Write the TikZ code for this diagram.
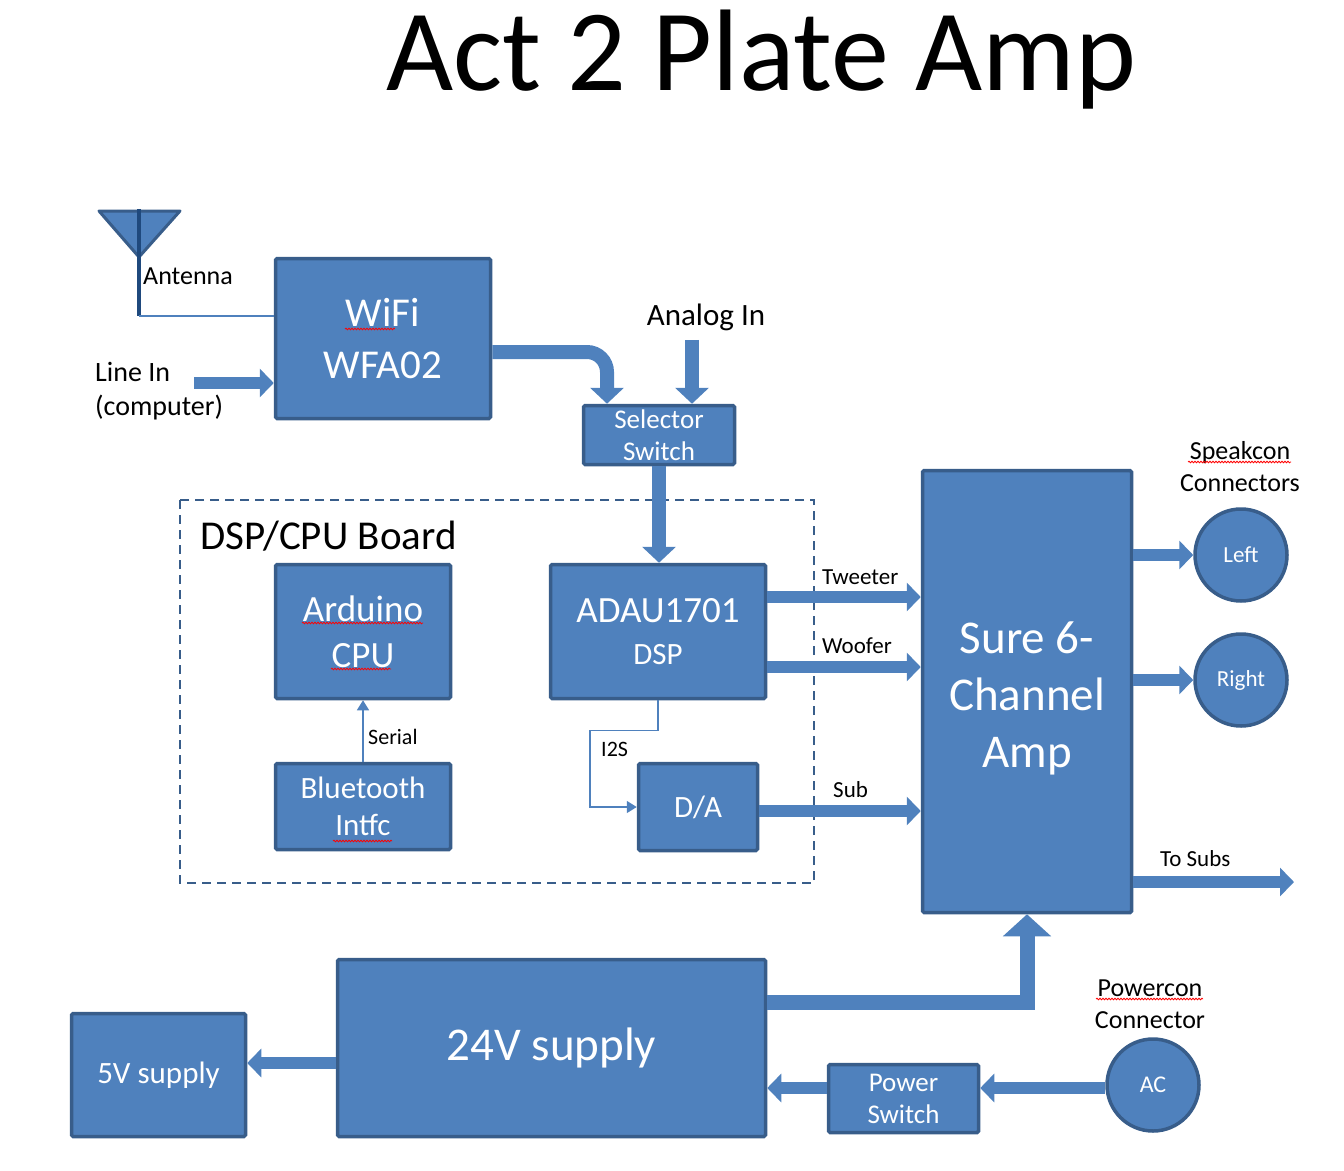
\documentclass[tikz,border=0pt]{standalone}
\usepackage{fontspec}
\setmainfont{Carlito}
\usetikzlibrary{arrows.meta,decorations.pathmorphing}
\definecolor{blkfill}{HTML}{4F81BD}
\definecolor{blkline}{HTML}{385D8A}
\definecolor{mast}{HTML}{1F497D}
\newcommand{\fsz}[2]{\fontsize{#1}{#2}\selectfont}

\begin{document}
\begin{tikzpicture}[x=1pt, y=-1pt,
	blk/.style={draw=blkline, line width=3.5pt, fill=blkfill, text=white, align=center, inner sep=0pt, rounded corners=1.5pt},
	con/.style={circle, draw=blkline, line width=3.5pt, fill=blkfill, text=white, inner sep=0pt, minimum size=92pt},
	barrow/.style={blkfill, line width=12pt, -{Triangle[width=28pt,length=14pt]}},
	warrow/.style={blkfill, line width=14pt, -{Triangle[width=33pt,length=16pt]}},
	larrow/.style={blkfill, line width=1.5pt, -{Triangle[width=12pt,length=10pt]}},
	lbl/.style={anchor=base west, inner sep=0pt},
	squig/.style={red, line width=0.8pt, decorate, decoration={snake, amplitude=0.8pt, segment length=3pt}}]
	\useasboundingbox (0,0) rectangle (1344,1170);

	\node[anchor=base, inner sep=0pt, font=\fsz{116}{139}] (title) at (761,90) {Act 2 Plate Amp};

	\draw[blkline, line width=2.8pt, dash pattern=on 9pt off 6pt] (180,500) rectangle (814,883);
	\node[lbl, font=\fsz{41}{48}] (board) at (200,549) {DSP/CPU Board};

	\node[blk, minimum width=215pt, minimum height=160pt, font=\fsz{41}{52}] (wifi) at (383,338.5) {WiFi\\WFA02};
	\node[blk, minimum width=151pt, minimum height=59pt, font=\fsz{27}{32}] (sel) at (659,435) {Selector\\Switch};
	\node[blk, minimum width=215pt, minimum height=134pt, font=\fsz{37}{42}] (dsp) at (658,631.5) {ADAU1701\\{\fsz{31}{37}DSP}};
	\node[blk, minimum width=175pt, minimum height=134pt, font=\fsz{37}{46}] (ard) at (363,631.5) {Arduino\\CPU};
	\node[blk, minimum width=175pt, minimum height=86pt, font=\fsz{31}{37}] (bt) at (363,806.5) {Bluetooth\\Intfc};
	\node[blk, minimum width=119pt, minimum height=87pt, font=\fsz{31}{37}] (da) at (698,807) {D/A};
	\node[blk, minimum width=209pt, minimum height=442pt, font=\fsz{47}{57}] (amp) at (1027,691.5) {\rule{0pt}{45pt}Sure 6-\\Channel\\Amp};
	\node[blk, minimum width=428pt, minimum height=177pt, font=\fsz{47}{57}] (s24) at (551.5,1048) {24V supply};
	\node[blk, minimum width=174pt, minimum height=123pt, font=\fsz{31}{37}] (s5) at (158.5,1075) {5V supply};
	\node[blk, minimum width=150pt, minimum height=68pt, font=\fsz{27}{32}] (psw) at (903.5,1098.5) {Power\\Switch};

	\node[con, font=\fsz{23}{28}] (lft) at (1241,555) {Left};
	\node[con, font=\fsz{23}{28}] (rgt) at (1241,680) {Right};
	\node[con, font=\fsz{24}{29}] (ac) at (1153,1085) {AC};

	\node[align=center, inner sep=0pt, font=\fsz{26}{32}] (speak) at (1240,467) {Speakcon\\Connectors};
	\node[align=center, inner sep=0pt, font=\fsz{26}{32}] (power) at (1150,1004) {Powercon\\Connector};
	\node[align=left, anchor=west, inner sep=0pt, font=\fsz{28}{34}] (linein) at (95,391) {Line In\\(computer)};
	\node[inner sep=0pt, font=\fsz{31}{37}] (analog) at (706,317) {Analog In};
	\node[lbl, font=\fsz{26}{31}] (antlbl) at (143,284) {Antenna};
	\node[lbl, font=\fsz{23}{28}] (twt) at (822,584) {Tweeter};
	\node[lbl, font=\fsz{23}{28}] (wof) at (822,653) {Woofer};
	\node[lbl, font=\fsz{23}{28}] (sub) at (833,797) {Sub};
	\node[lbl, font=\fsz{23}{28}] (tosub) at (1160,866) {To Subs};
	\node[lbl, font=\fsz{22}{26}] (ser) at (368,744) {Serial};
	\node[lbl, font=\fsz{22}{26}] (iis) at (601,756) {I2S};

	\coordinate (ant) at (139,316);
	\coordinate (lin) at (194,383);
	\coordinate (subsout) at (1294,882);

	\draw[fill=blkfill, draw=blkline, line width=3pt, line join=round] (99,211) -- (180,211) -- (139,257) -- cycle;
	\draw[mast, line width=4pt] (139,209) -- (ant);
	\draw[blkfill, line width=1.5pt] (ant) -- (wifi.west |- ant);

	\draw[barrow] (lin) -- (wifi.west |- lin);
	\draw[warrow, rounded corners=20pt] ([yshift=-13.5pt]wifi.east) -| ([xshift=-52pt]sel.north);
	\draw[warrow] ([xshift=33pt,yshift=64pt]sel.north) -- ([xshift=33pt]sel.north);
	\draw[warrow] (sel.south) -- (sel.south |- dsp.north);

	\draw[larrow] (bt.north) -- (ard.south);
	\draw[larrow] (dsp.south) -- ++(0,30) -| ([xshift=-47pt]da.west) -- (da.west);

	\draw[barrow] ([yshift=34.5pt]dsp.east) -- ([yshift=34.5pt]dsp.east -| amp.west);
	\draw[barrow] ([yshift=-35.5pt]dsp.east) -- ([yshift=-35.5pt]dsp.east -| amp.west);
	\draw[barrow] ([yshift=-4pt]da.east) -- ([yshift=-4pt]da.east -| amp.west);

	\draw[barrow] (amp.east |- lft.west) -- (lft.west);
	\draw[barrow] (amp.east |- rgt.west) -- (rgt.west);
	\draw[barrow] (amp.east |- subsout) -- (subsout);

	\draw[blkfill, line width=15pt, -{Triangle[width=47pt,length=22pt]}] ([yshift=46pt]s24.east) -| (amp.south);
	\draw[barrow] ([yshift=-15pt]s24.west) -- ([yshift=-15pt]s24.west -| s5.east);
	\draw[barrow] ([yshift=10.5pt]psw.west) -- ([yshift=10.5pt]psw.west -| s24.east);
	\draw[barrow] ([yshift=-3pt]ac.west) -- ([yshift=-3pt]ac.west -| psw.east);

	\draw[squig] (345,329) -- (395,329);
	\draw[squig] (302,623) -- (423,623);
	\draw[squig] (331,669) -- (391,669);
	\draw[squig] (333,841) -- (392,841);
	\draw[squig] (1188,462) -- (1291,462);
	\draw[squig] (1096,999) -- (1203,999);
\end{tikzpicture}
\end{document}
